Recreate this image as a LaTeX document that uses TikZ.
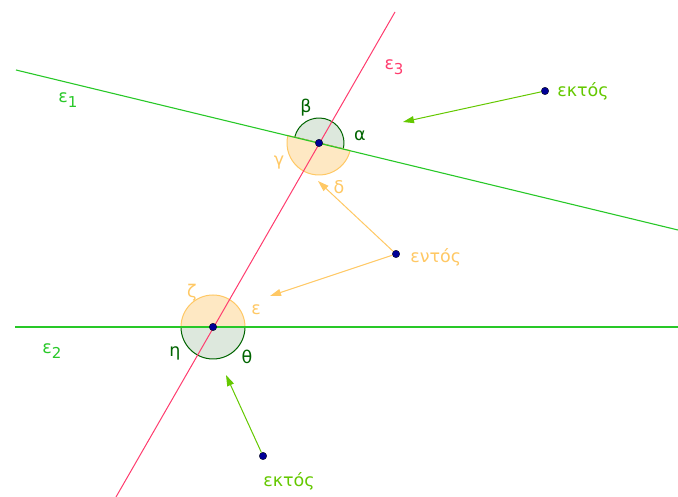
\documentclass[tikz,border=0pt]{standalone}
\usepackage{fontspec}
\setmainfont{DejaVu Sans}
\usetikzlibrary{arrows.meta, positioning, calc}
\definecolor{linegreen}{RGB}{40,200,40}
\definecolor{linered}{RGB}{255,60,110}
\definecolor{outgreen}{RGB}{100,200,0}
\definecolor{ingold}{RGB}{255,200,100}
\definecolor{darkgr}{RGB}{0,100,0}
\definecolor{greenfill}{RGB}{221,232,221}
\definecolor{goldfill}{RGB}{254,232,195}
\definecolor{ptblue}{RGB}{0,0,150}
\newcommand{\sub}[1]{\raisebox{-5pt}{\fontsize{15}{15}\selectfont #1}}

\begin{document}
\begin{tikzpicture}[x=1pt, y=1pt, >={Triangle[length=11pt,width=7pt]},
    font=\fontsize{17.5}{20}\selectfont,
    pt/.style={circle, fill=ptblue, draw=black, line width=0.3pt, inner sep=0pt, minimum size=7.5pt},
    outsec/.style={fill=greenfill, draw=darkgr, line width=1pt},
    insec/.style={fill=goldfill, draw=ingold, line width=1pt}]
    \useasboundingbox (0,0) rectangle (678,497);
    % intersections
    \coordinate (A) at (319,354);
    \coordinate (B) at (213,170);
    % angle discs
    \draw[outsec] (A) -- ++(-13.59:25) arc (-13.59:166.41:25) -- cycle;
    \draw[insec] (A) -- ++(166.41:32) arc (166.41:346.41:32) -- cycle;
    \draw[insec] (B) -- ++(0:32) arc (0:180:32) -- cycle;
    \draw[outsec] (B) -- ++(180:32) arc (180:360:32) -- cycle;
    % the three lines
    \coordinate (e1a) at (16,427);
    \coordinate (e1b) at (678,267);
    \coordinate (e2a) at (15,170);
    \coordinate (e2b) at (678,170);
    \coordinate (e3a) at (116,0);
    \coordinate (e3b) at (395,485);
    \draw[linegreen, line width=1.1pt] (e1a) -- (e1b);
    \draw[linegreen, line width=1.1pt] (e2a) -- (e2b);
    \draw[linered, line width=1pt] (e3a) -- (e3b);
    \node[linegreen] (l1) at (68,397) {ε\sub{1}};
    \node[linegreen] (l2) at (52,146) {ε\sub{2}};
    \node[linered] (l3) at (394,430) {ε\sub{3}};
    % angle names
    \node[darkgr] (al) at (360,361) {α};
    \node[darkgr] (be) at (306,389) {β};
    \node[ingold] (ga) at (279,334) {γ};
    \node[ingold] (de) at (339,310) {δ};
    \node[ingold] (ep) at (256,187) {ε};
    \node[ingold] (ze) at (192,204) {ζ};
    \node[darkgr] (et) at (175,144) {η};
    \node[darkgr] (th) at (247,140) {θ};
    % pointers
    \node[pt] (p1) at (545,406) {};
    \node[pt] (p2) at (396,243) {};
    \node[pt] (p3) at (263,41) {};
    \coordinate (t1) at (403,375);
    \coordinate (t2) at (318,316);
    \coordinate (t3) at (270,201);
    \coordinate (t4) at (226,122);
    \draw[->, outgreen, line width=1pt] (p1) -- (t1);
    \draw[->, ingold, line width=1pt] (p2) -- (t2);
    \draw[->, ingold, line width=1pt] (p2) -- (t3);
    \draw[->, outgreen, line width=1pt] (p3) -- (t4);
    \node[outgreen, right=5pt of p1] (x1) {εκτός};
    \node[ingold, right=7pt of p2, yshift=-3pt] (x2) {εντός};
    \node[outgreen, below right=10pt and -6pt of p3] (x3) {εκτός};
    \node[pt] at (A) {};
    \node[pt] at (B) {};
\end{tikzpicture}
\end{document}
